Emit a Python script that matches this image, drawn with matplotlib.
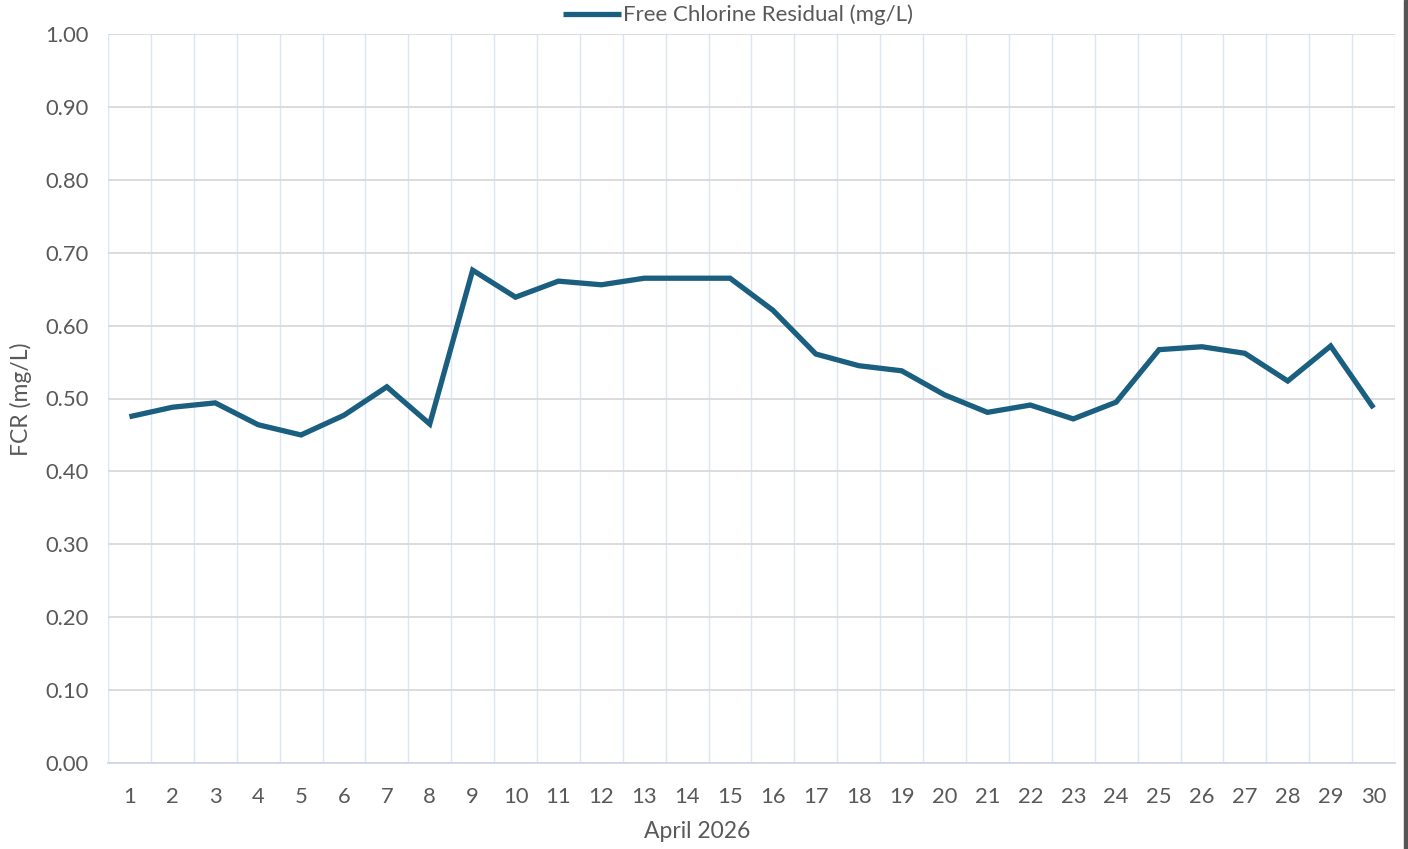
import matplotlib
matplotlib.use("Agg")
import matplotlib.pyplot as plt
from matplotlib.patches import Rectangle
from matplotlib.ticker import FixedLocator

plt.rcParams['font.family'] = ['Lato', 'DejaVu Sans']

# April 2026, daily free chlorine residual
days = list(range(1, 31))
fcr = [0.475, 0.488, 0.494, 0.464, 0.450, 0.477, 0.516, 0.465, 0.676, 0.639,
       0.661, 0.656, 0.665, 0.665, 0.665, 0.621, 0.561, 0.545, 0.538, 0.505,
       0.481, 0.491, 0.472, 0.495, 0.567, 0.571, 0.562, 0.524, 0.572, 0.487]
y_ticks = [0.0, 0.1, 0.2, 0.3, 0.4, 0.5, 0.6, 0.7, 0.8, 0.9, 1.0]

text_col = "#595959"
line_col = "#1a5e80"

fig = plt.figure(figsize=(14.08, 8.49), dpi=100)
ax = fig.add_axes([108 / 1408, 86 / 849, 1287 / 1408, 729 / 849])

ax.plot(days, fcr, color=line_col, lw=3.8, solid_joinstyle="miter",
        solid_capstyle="butt", label="Free Chlorine Residual (mg/L)", zorder=3)

ax.set_xlim(0.5, 30.5)
ax.set_ylim(0, 1.0)
ax.set_xticks(days)
ax.set_xticklabels([str(d) for d in days])
ax.set_yticks(y_ticks)
ax.set_yticklabels([f"{v:.2f}" for v in y_ticks])
ax.xaxis.set_minor_locator(FixedLocator([d + 0.5 for d in range(0, 31)]))

ax.grid(axis="y", which="major", color="#d9d9d9", lw=1.3, zorder=0)
ax.grid(axis="x", which="minor", color="#dce5f2", lw=1.0, zorder=0)
ax.tick_params(axis="both", which="both", length=0, labelsize=15.8,
               labelcolor=text_col)
ax.tick_params(axis="x", pad=17)
ax.tick_params(axis="y", pad=14)

for s in ["top", "right", "left"]:
    ax.spines[s].set_visible(False)
ax.spines["bottom"].set_color("#d0d8e4")
ax.spines["bottom"].set_linewidth(1.3)

ax.set_xlabel("April 2026", fontsize=16.5, color=text_col)
ax.xaxis.set_label_coords((697 - 108) / 1287, -(831 - 763) / 729)
ax.xaxis.label.set_va("center")
ax.set_ylabel("FCR (mg/L)", fontsize=16.5, color=text_col)
ax.yaxis.set_label_coords(-(108 - 21) / 1287, (763 - 399) / 729)
ax.yaxis.label.set_va("center")

fig.legend(loc="center", bbox_to_anchor=(738 / 1408, 1 - 15 / 849),
           frameon=False, fontsize=16, labelcolor=text_col,
           handlelength=2.6, handletextpad=0.1)

# dark strip at the right edge of the screenshot
fig.patches.append(Rectangle((1404 / 1408, 0), 4 / 1408, 1,
                             transform=fig.transFigure, color="#555555"))

fig.savefig("out.png", dpi=100)
